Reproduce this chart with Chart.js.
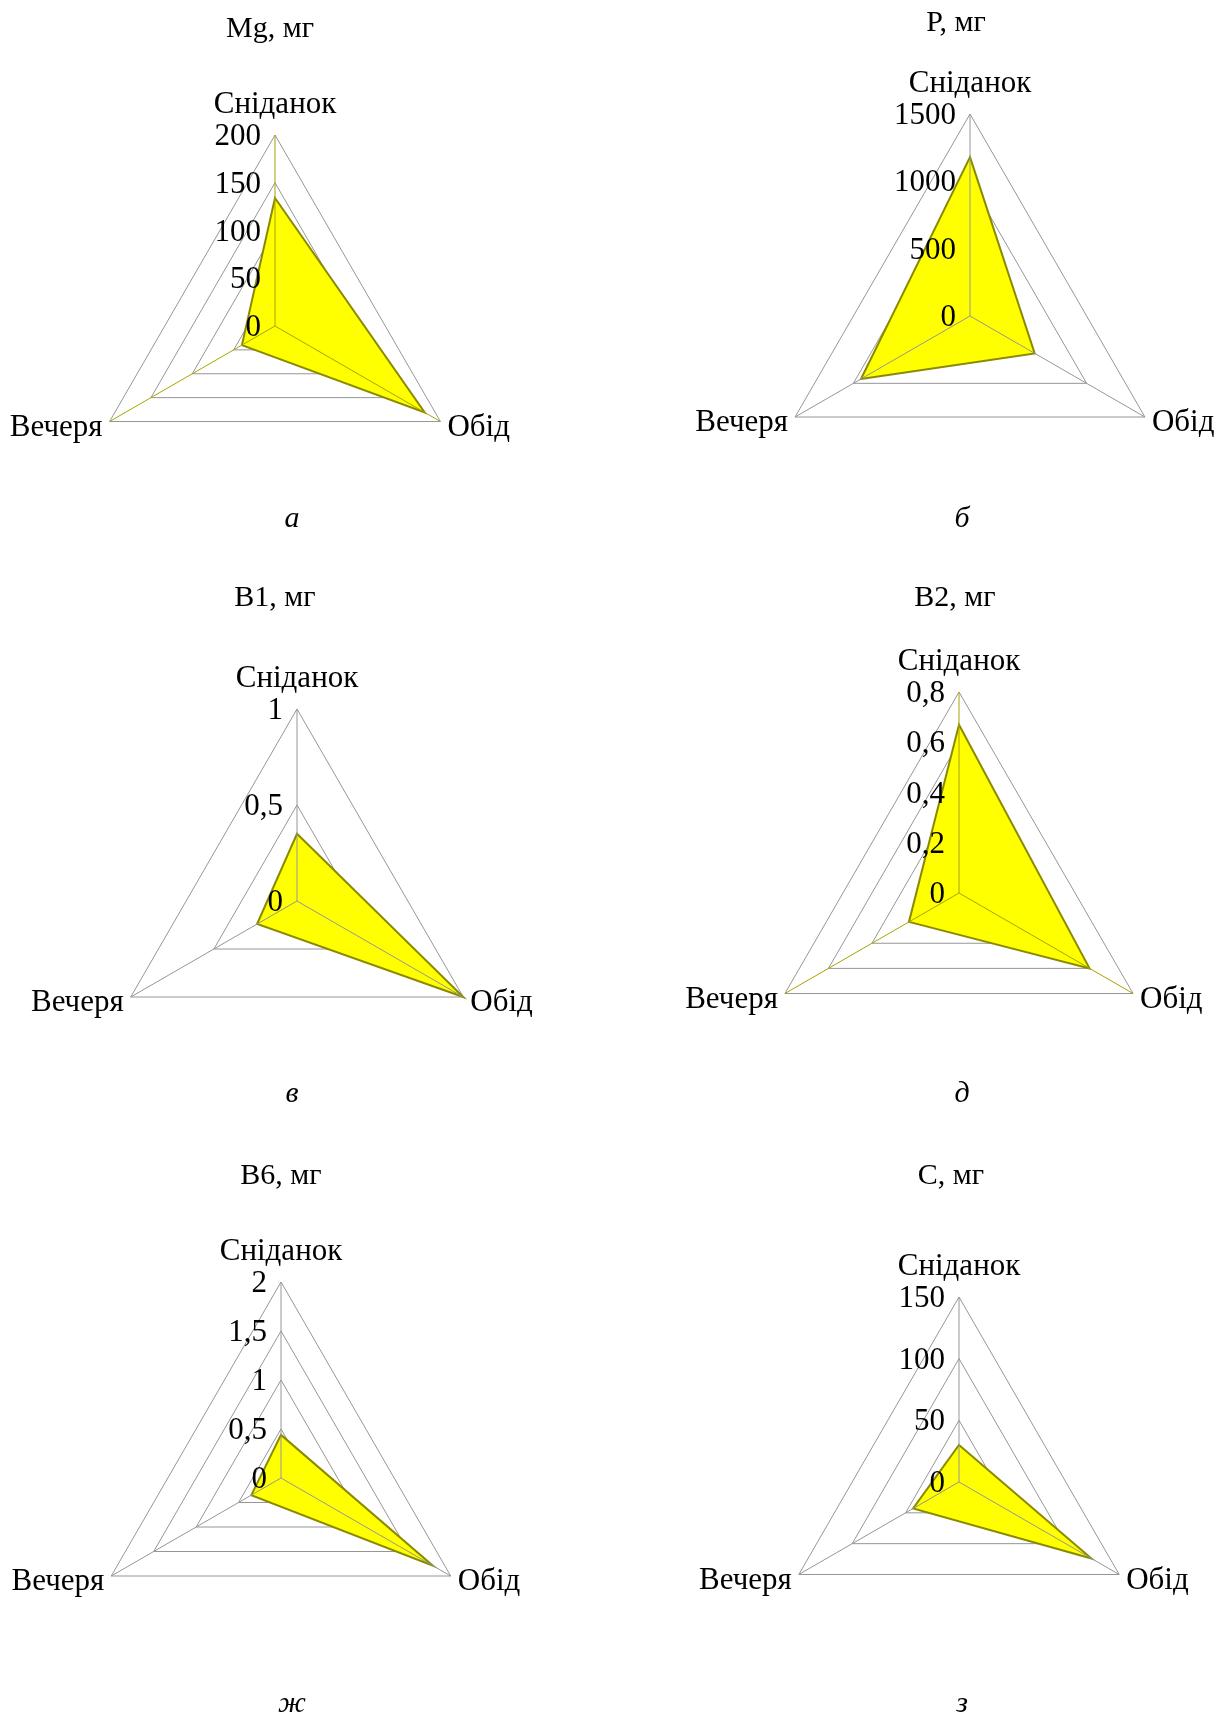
<!DOCTYPE html>
<html>
<head>
<meta charset="utf-8">
<script src="https://cdn.jsdelivr.net/npm/chart.js@4.4.1/dist/chart.umd.min.js"></script>
<style>
  html, body { margin:0; padding:0; background:#fff; }
  body { width:1222px; height:1718px; position:relative; overflow:hidden; font-family:'Liberation Serif','Times New Roman',serif; }
  canvas { position:absolute; }
  .txt { position:absolute; font-size:30px; line-height:30px; color:#000; white-space:nowrap; transform:translateX(-50%); }
  .cap { font-style:italic; }
</style>
</head>
<body>
<script>
// meals around each triangle (top, lower right, lower left)
const meals = ['Сніданок', 'Обід', 'Вечеря'];

// values per meal
const mgValues = [134, 181, 40];
const pValues = [1180, 555, 935];
const b1Values = [0.35, 1.0, 0.24];
const b2Values = [0.67, 0.60, 0.23];
const b6Values = [0.44, 1.79, 0.35];
const cValues = [30, 124, 43];

// radial tick labels
const mgTicks = [0, 50, 100, 150, 200];
const pTicks = [0, 500, 1000, 1500];
const b1Ticks = [0, 0.5, 1];
const b2Ticks = [0, 0.2, 0.4, 0.6, 0.8];
const b6Ticks = [0, 0.5, 1, 1.5, 2];
const cTicks = [0, 50, 100, 150];

const titles = ['Mg, мг', 'P, мг', 'B1, мг', 'B2, мг', 'B6, мг', 'С, мг'];
const captions = ['а', 'б', 'в', 'д', 'ж', 'з'];

// layout: cell box, center and radius of each radar
const panels = [
  {data: mgValues, ticks: mgTicks, cell:[0,0,611,570],     cx:275, cy:326,  r:191, axisColor:'#a8a400', title:[270,37],  cap:[292,527]},
  {data: pValues,  ticks: pTicks,  cell:[611,0,611,570],   cx:970, cy:316,  r:202, axisColor:'#969696', title:[956,31],  cap:[962,527]},
  {data: b1Values, ticks: b1Ticks, cell:[0,570,611,580],   cx:297, cy:901,  r:192, axisColor:'#969696', title:[275,606], cap:[292,1102]},
  {data: b2Values, ticks: b2Ticks, cell:[611,570,611,580], cx:959, cy:893,  r:201, axisColor:'#a8a400', title:[955,606], cap:[962,1102]},
  {data: b6Values, ticks: b6Ticks, cell:[0,1150,611,568],  cx:281, cy:1478, r:196, axisColor:'#969696', title:[281,1184],cap:[292,1712]},
  {data: cValues,  ticks: cTicks,  cell:[611,1150,611,568],cx:959, cy:1482, r:185, axisColor:'#969696', title:[951,1184],cap:[962,1712]}
];

const FONT = '31px "Liberation Serif", "Times New Roman", serif';

function fmt(v){ return String(v).replace('.', ','); }

// angle lines on top of the fill, tick labels and meal labels
const overlay = {
  id: 'overlay',
  afterDatasetsDraw(chart, args, opts){
    const s = chart.scales.r, ctx = chart.ctx;
    ctx.save();
    ctx.strokeStyle = opts.axisColor;
    ctx.lineWidth = 1;
    for (let i = 0; i < meals.length; i++) {
      const p = s.getPointPositionForValue(i, s.max);
      ctx.beginPath();
      ctx.moveTo(s.xCenter, s.yCenter);
      ctx.lineTo(p.x, p.y);
      ctx.stroke();
    }
    ctx.fillStyle = '#000';
    ctx.font = FONT;
    ctx.textAlign = 'right';
    ctx.textBaseline = 'middle';
    opts.ticks.forEach(v => {
      const p = s.getPointPositionForValue(0, v);
      ctx.fillText(fmt(v), p.x - 14, p.y + 2);
    });
    const top = s.getPointPositionForValue(0, s.max);
    ctx.textAlign = 'center';
    ctx.textBaseline = 'alphabetic';
    ctx.fillText(meals[0], top.x, top.y - 22);
    const rt = s.getPointPositionForValue(1, s.max);
    ctx.textAlign = 'left';
    ctx.textBaseline = 'middle';
    ctx.fillText(meals[1], rt.x + 7, rt.y + 6);
    const lt = s.getPointPositionForValue(2, s.max);
    ctx.textAlign = 'right';
    ctx.fillText(meals[2], lt.x - 7, lt.y + 6);
    ctx.restore();
  }
};

panels.forEach((pn, k) => {
  const [x0, y0, w, h] = pn.cell;
  const cv = document.createElement('canvas');
  cv.width = w; cv.height = h;
  cv.style.left = x0 + 'px'; cv.style.top = y0 + 'px';
  cv.style.width = w + 'px'; cv.style.height = h + 'px';
  document.body.appendChild(cv);

  const t = pn.ticks;
  new Chart(cv, {
    type: 'radar',
    data: {
      labels: meals,
      datasets: [{
        data: pn.data,
        backgroundColor: '#ffff00',
        borderColor: '#8a8a00',
        borderWidth: 2,
        pointRadius: 0,
        fill: true
      }]
    },
    options: {
      responsive: false,
      animation: false,
      devicePixelRatio: 1,
      layout: { padding: {
        left: pn.cx - pn.r - x0,
        right: x0 + w - (pn.cx + pn.r),
        top: pn.cy - pn.r - y0,
        bottom: y0 + h - (pn.cy + pn.r)
      }},
      plugins: { legend: {display:false}, tooltip: {enabled:false}, overlay: {axisColor: pn.axisColor, ticks: t} },
      scales: { r: {
        min: t[0], max: t[t.length - 1],
        ticks: { display:false, stepSize: t[1] - t[0] },
        pointLabels: { display:false },
        angleLines: { display:false },
        grid: { color:'#969696', lineWidth:1, circular:false }
      }}
    },
    plugins: [overlay]
  });

  const ti = document.createElement('div');
  ti.className = 'txt';
  ti.textContent = titles[k];
  ti.style.left = pn.title[0] + 'px';
  ti.style.top = (pn.title[1] - 25) + 'px';
  document.body.appendChild(ti);

  const ca = document.createElement('div');
  ca.className = 'txt cap';
  ca.textContent = captions[k];
  ca.style.left = pn.cap[0] + 'px';
  ca.style.top = (pn.cap[1] - 25) + 'px';
  document.body.appendChild(ca);
});
</script>
</body>
</html>
